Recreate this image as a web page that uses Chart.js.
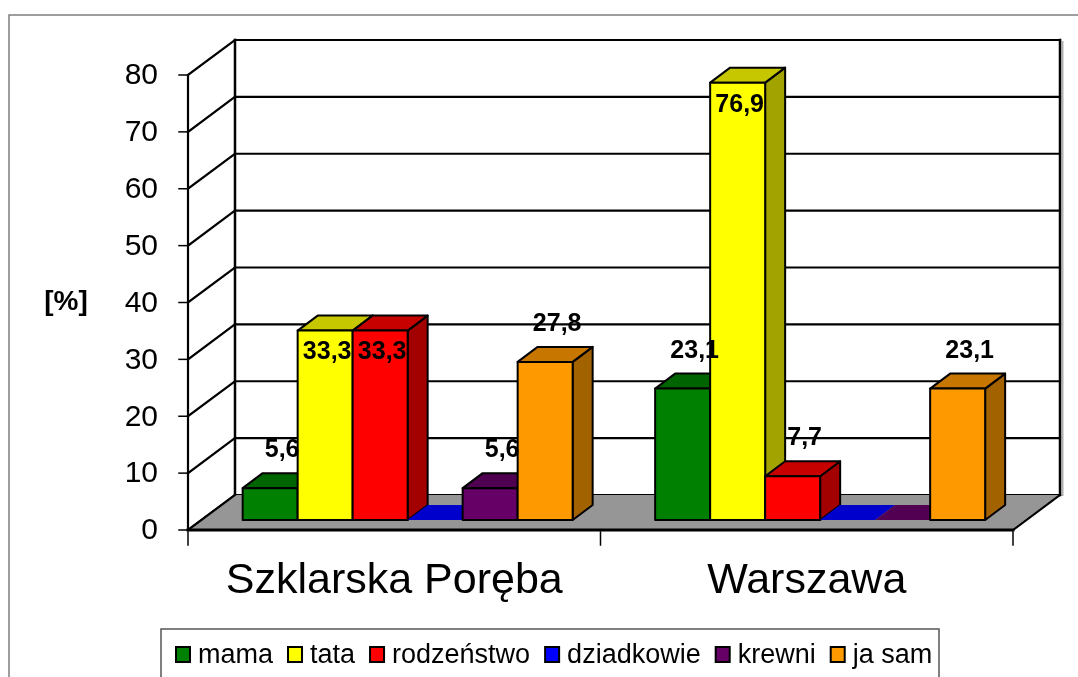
<!DOCTYPE html>
<html>
<head>
<meta charset="utf-8">
<script src="https://cdn.jsdelivr.net/npm/chart.js@4.4.0/dist/chart.umd.min.js"></script>
<style>
  html, body { margin: 0; padding: 0; background: #fff; }
  #wrap { width: 1078px; height: 677px; }
</style>
</head>
<body>
<div id="wrap"><canvas id="chart" width="1078" height="677"></canvas></div>
<script>
// ===== DATA =====
const categories = ["Szklarska Poręba", "Warszawa"];
const seriesNames = ["mama", "tata", "rodzeństwo", "dziadkowie", "krewni", "ja sam"];
const mama       = [5.6, 23.1];
const tata       = [33.3, 76.9];
const rodzenstwo = [33.3, 7.7];
const dziadkowie = [0, 0];
const krewni     = [5.6, 0];
const jaSam      = [27.8, 23.1];
const yTicks     = [0, 10, 20, 30, 40, 50, 60, 70, 80];
const colors     = ["#008000", "#FFFF00", "#FF0000", "#0000FF", "#660066", "#FF9900"];

const FONT = "'Liberation Sans', Arial, sans-serif";

// ===== 3D GEOMETRY =====
const WALL_DX = 47, WALL_DY = -35;   // back wall offset
const BAR_OX = 13.4, BAR_OY = -10;   // bars sit a bit behind the front edge
const BAR_DX = 20, BAR_DY = -15;     // bar depth

function shade(hex, f) {
  const n = parseInt(hex.slice(1), 16);
  const r = Math.round(((n >> 16) & 255) * f);
  const g = Math.round(((n >> 8) & 255) * f);
  const b = Math.round((n & 255) * f);
  return `rgb(${r},${g},${b})`;
}

function poly(ctx, pts, fill, stroke, lw) {
  ctx.beginPath();
  ctx.moveTo(pts[0][0], pts[0][1]);
  for (let k = 1; k < pts.length; k++) ctx.lineTo(pts[k][0], pts[k][1]);
  ctx.closePath();
  if (fill) { ctx.fillStyle = fill; ctx.fill(); }
  if (stroke) { ctx.strokeStyle = stroke; ctx.lineWidth = lw || 1.5; ctx.stroke(); }
}

function line(ctx, x1, y1, x2, y2) {
  ctx.beginPath();
  ctx.moveTo(x1, y1);
  ctx.lineTo(x2, y2);
  ctx.stroke();
}

function fmt(v) {
  return v.toFixed(1).replace(".", ",");
}

const chart3d = {
  id: "chart3d",
  beforeDatasetsDraw(chart) {
    const ctx = chart.ctx;
    const xs = chart.scales.x, ys = chart.scales.y;
    const L = chart.chartArea.left, R = chart.chartArea.right;
    const y0 = ys.getPixelForValue(0);
    const yMax = ys.getPixelForValue(yTicks[yTicks.length - 1]);

    ctx.save();
    ctx.lineCap = "square";

    // back wall gridlines + side wall diagonals
    ctx.strokeStyle = "#000";
    ctx.lineWidth = 2.2;
    yTicks.forEach(v => {
      const y = ys.getPixelForValue(v);
      line(ctx, L + WALL_DX, y + WALL_DY, R + WALL_DX, y + WALL_DY);
      line(ctx, L, y, L + WALL_DX, y + WALL_DY);
    });

    // back wall verticals (with light shadow on the right)
    ctx.strokeStyle = "#b0b0b0";
    ctx.lineWidth = 2;
    line(ctx, R + WALL_DX + 2.5, yMax + WALL_DY + 2, R + WALL_DX + 2.5, y0 + WALL_DY);
    ctx.strokeStyle = "#000";
    ctx.lineWidth = 2.5;
    line(ctx, L + WALL_DX, yMax + WALL_DY, L + WALL_DX, y0 + WALL_DY);
    line(ctx, R + WALL_DX, yMax + WALL_DY, R + WALL_DX, y0 + WALL_DY);

    // floor (no edge along the back)
    poly(ctx, [[L, y0], [R, y0], [R + WALL_DX, y0 + WALL_DY], [L + WALL_DX, y0 + WALL_DY]], "#969696", null);
    ctx.strokeStyle = "#000";
    ctx.lineWidth = 2;
    line(ctx, L, y0, L + WALL_DX, y0 + WALL_DY);
    line(ctx, R, y0, R + WALL_DX, y0 + WALL_DY);
    ctx.lineWidth = 3;
    line(ctx, L, y0, R, y0);

    // front y axis
    ctx.lineWidth = 2.2;
    line(ctx, L, yMax, L, y0);

    // y ticks + labels
    ctx.lineWidth = 1.5;
    ctx.fillStyle = "#000";
    ctx.font = "30px " + FONT;
    ctx.textAlign = "right";
    ctx.textBaseline = "middle";
    yTicks.forEach(v => {
      const y = ys.getPixelForValue(v);
      line(ctx, L - 9, y, L, y);
      ctx.fillText(String(v), L - 30, y + 1);
    });

    // x ticks at category boundaries
    const half = (xs.getPixelForValue(1) - xs.getPixelForValue(0)) / 2;
    const xEdges = [xs.getPixelForValue(0) - half, xs.getPixelForValue(0) + half, xs.getPixelForValue(1) + half];
    ctx.lineWidth = 1.5;
    xEdges.forEach(x => line(ctx, x, y0 + 2, x, y0 + 15));

    // category labels
    ctx.font = "43px " + FONT;
    ctx.textAlign = "center";
    ctx.textBaseline = "middle";
    categories.forEach((c, j) => {
      ctx.fillText(c, xs.getPixelForValue(j), y0 + 51);
    });

    // axis title
    ctx.font = "bold 28px " + FONT;
    ctx.fillText("[%]", 66, 302);

    // bars, left to right
    ctx.lineJoin = "round";
    categories.forEach((c, j) => {
      chart.data.datasets.forEach((ds, i) => {
        const el = chart.getDatasetMeta(i).data[j];
        const p = el.getProps(["x", "y", "base", "width"], true);
        const l = p.x - p.width / 2 + BAR_OX;
        const r = p.x + p.width / 2 + BAR_OX;
        const t = p.y + BAR_OY;
        const b = p.base + BAR_OY;
        const col = ds.backgroundColor;
        if (b - t > 0.5) {
          poly(ctx, [[r, t], [r + BAR_DX, t + BAR_DY], [r + BAR_DX, b + BAR_DY], [r, b]], shade(col, 0.64), "#000", 2);
          poly(ctx, [[l, t], [l + BAR_DX, t + BAR_DY], [r + BAR_DX, t + BAR_DY], [r, t]], shade(col, 0.78), "#000", 2);
          poly(ctx, [[l, t], [r, t], [r, b], [l, b]], col, "#000", 2);
        } else {
          poly(ctx, [[l, b], [l + BAR_DX, b + BAR_DY], [r + BAR_DX, b + BAR_DY], [r, b]], shade(col, 0.8), null);
        }
      });
    });

    ctx.restore();
    return false;
  },
  afterDraw(chart) {
    const ctx = chart.ctx;
    ctx.save();

    // value labels
    ctx.fillStyle = "#000";
    ctx.font = "bold 25px " + FONT;
    ctx.textAlign = "center";
    ctx.textBaseline = "middle";
    categories.forEach((c, j) => {
      chart.data.datasets.forEach((ds, i) => {
        const v = ds.data[j];
        if (!v) return;
        const el = chart.getDatasetMeta(i).data[j];
        const t = el.y + BAR_OY;
        const cx = el.x + BAR_OX;
        if (v >= 30) ctx.fillText(fmt(v), cx + 2, t + 22);
        else ctx.fillText(fmt(v), cx + 12, t - 38);
      });
    });

    // legend
    ctx.strokeStyle = "#555";
    ctx.lineWidth = 1.5;
    ctx.strokeRect(161, 629, 778, 70);
    ctx.font = "27px " + FONT;
    ctx.textAlign = "left";
    ctx.textBaseline = "alphabetic";
    let x = 176;
    chart.data.datasets.forEach(ds => {
      ctx.fillStyle = ds.backgroundColor;
      ctx.fillRect(x, 647, 14, 15);
      ctx.strokeStyle = "#000";
      ctx.lineWidth = 2;
      ctx.strokeRect(x, 647, 14, 15);
      ctx.fillStyle = "#000";
      ctx.fillText(ds.label, x + 22, 663);
      x += 22 + ctx.measureText(ds.label).width + 15;
    });

    // outer frame
    ctx.strokeStyle = "#7f7f7f";
    ctx.lineWidth = 1.5;
    ctx.strokeRect(9, 15, 1100, 700);

    ctx.restore();
  }
};

const seriesValues = [mama, tata, rodzenstwo, dziadkowie, krewni, jaSam];

new Chart(document.getElementById("chart").getContext("2d"), {
  type: "bar",
  data: {
    labels: categories,
    datasets: seriesNames.map((name, i) => ({
      label: name,
      data: seriesValues[i],
      backgroundColor: colors[i],
      borderColor: "#000",
      borderWidth: 1,
      categoryPercentage: 0.8,
      barPercentage: 1.0
    }))
  },
  options: {
    responsive: false,
    animation: false,
    layout: { padding: { left: 188, right: 65, top: 75, bottom: 147 } },
    plugins: {
      legend: { display: false },
      tooltip: { enabled: false }
    },
    scales: {
      x: { display: false },
      y: { display: false, min: 0, max: 80 }
    }
  },
  plugins: [chart3d]
});
</script>
</body>
</html>
